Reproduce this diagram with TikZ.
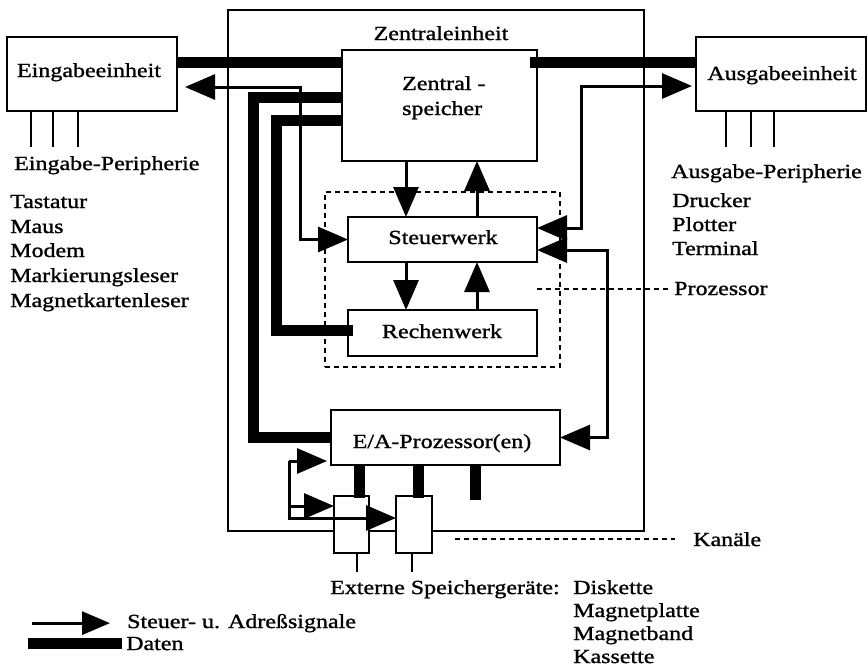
\documentclass[tikz,border=0pt]{standalone}
\usepackage{fontspec}
\setmainfont{Liberation Serif}[FakeStretch=1.2,FakeBold=1.2]
\usetikzlibrary{arrows.meta,calc}
\begin{document}
\begin{tikzpicture}[x=1pt,y=-1pt,
  font=\fontsize{20}{24}\selectfont,
  Big/.tip={Triangle[length=30pt,width=25pt]},
  Small/.tip={Triangle[length=28pt,width=23pt]},
  unit/.style={draw,line width=2.4pt,inner sep=0pt,outer sep=0pt,anchor=north west},
  port/.style={unit,fill=white},
  lbl/.style={inner sep=0pt,anchor=base},
  lblw/.style={inner sep=0pt,anchor=base west},
  data/.style={line width=11pt},
  signal/.style={line width=3pt,Big-Big},
  feed/.style={line width=3pt,-Big},
  wire/.style={line width=2.4pt},
  guide/.style={line width=2pt,dash pattern=on 5pt off 4pt},
]
\useasboundingbox (0,0) rectangle (867,670);

% central unit frame
\node[unit,minimum width=416pt,minimum height=521pt] (ze) at (228,10) {};
\node[lbl] (zel) at (441,40) {Zentraleinheit};

% input and output units
\node[unit,minimum width=170pt,minimum height=74pt] (ein) at (7,37) {};
\node[lbl] (eint) at (89,77) {Eingabeeinheit};
\node[unit,minimum width=170pt,minimum height=74pt] (aus) at (696,37) {};
\node[lbl] (aust) at (782,80) {Ausgabeeinheit};

% peripheral wires
\foreach \d in {24,46,71}
  \draw[wire] ($(ein.south west)+(\d,0)$) -- ++(0,36);
\foreach \d in {30,55,78}
  \draw[wire] ($(aus.south west)+(\d,0)$) -- ++(0,36);

\node[lblw] (einp) at (14,170) {Eingabe-Peripherie};
\node[lblw] (in1) at (10,208) {Tastatur};
\node[lblw] (in2) at (10,233) {Maus};
\node[lblw] (in3) at (10,257) {Modem};
\node[lblw] (in4) at (10,282) {Markierungsleser};
\node[lblw] (in5) at (10,307) {Magnetkartenleser};

\node[lblw] (ausp) at (671,178) {Ausgabe-Peripherie};
\node[lblw] (out1) at (672,207) {Drucker};
\node[lblw] (out2) at (672,231) {Plotter};
\node[lblw] (out3) at (672,255) {Terminal};

% main memory, control unit, arithmetic unit
\node[unit,minimum width=195pt,minimum height=111pt] (zs) at (342,50) {};
\node[lblw] (zst1) at (402,90) {Zentral -};
\node[lblw] (zst2) at (402,115) {speicher};

\node[guide,draw,inner sep=0pt,outer sep=0pt,anchor=north west,
      minimum width=235pt,minimum height=175pt] (proz) at (325,192) {};

\node[unit,minimum width=189pt,minimum height=45pt] (sw) at (348,217) {};
\node[lbl] (swt) at (443,244) {Steuerwerk};
\node[unit,minimum width=189pt,minimum height=46pt] (rw) at (348,310) {};
\node[lbl] (rwt) at (442,338) {Rechenwerk};

% I/O processor and channels
\node[unit,minimum width=229pt,minimum height=55pt] (ea) at (331,410) {};
\node[lbl] (eat) at (442,448) {E/A-Prozessor(en)};

\node[port,minimum width=35pt,minimum height=57pt] (k1) at (334,496) {};
\node[port,minimum width=36pt,minimum height=57pt] (k2) at (396,496) {};
\draw[wire] ($(k1.south)+(5.5,0)$) -- ++(0,19);
\draw[wire] ($(k2.south)+(-2,0)$) -- ++(0,19);

% helper positions
\coordinate (cl) at (406,0);
\coordinate (cr) at (477,0);
\coordinate (s1) at (359,0);
\coordinate (s2) at (418,0);
\coordinate (s3) at (475,0);
\coordinate (tA) at (289,461);
\coordinate (tB) at (289,506);
\coordinate (tC) at (289,518);
\coordinate (gp) at (537,0);
\coordinate (gk) at (455,0);

% data paths
\draw[data] ($(ein.east)+(0,-12)$) -- ($(zs.north west)+(0,12)$);
\draw[data] ($(zs.north east)+(-7,12)$) -- ($(aus.north west)+(0,25)$);
\draw[data] ($(zs.north west)+(0,47)$) -| ($(ea.west)+(-78,0)$) -- (ea.west);
\draw[data] ($(zs.north west)+(0,70)$) -| ($(rw.west)+(-72,-3)$) -- ($(rw.west)+(5,-3)$);
\draw[data] (ea.south -| s1) -- ($(k1.north -| s1)+(0,2)$);
\draw[data] (ea.south -| s2) -- ($(k2.north -| s2)+(0,2)$);
\draw[data] (ea.south -| s3) -- ++(0,35);

% control and address signals
\draw[signal] ($(ein.east)+(8,13)$) -| ($(sw.west)+(-48,0)$) -- (sw.west);
\draw[feed] (zs.south -| cl) -- (sw.north -| cl);
\draw[feed] (sw.north -| cr) -- (zs.south -| cr);
\draw[feed] (sw.south -| cl) -- (rw.north -| cl);
\draw[feed] (rw.north -| cr) -- (sw.south -| cr);
\draw[signal] ($(sw.east)+(0,-11.5)$) -| ($(aus.west)+(-115,12)$) -- ($(aus.west)+(-4,12)$);
\draw[signal] ($(sw.east)+(0,10.5)$) -| ($(ea.east)+(47,0)$) -- (ea.east);

\draw[line width=3pt] ($(tC)+(0,1.5)$) -- (tA);
\draw[feed] (tA) -- ($(ea.west |- tA)+(-4,0)$);
\draw[feed] (tB) -- (k1.west |- tB);
\draw[feed] ($(tC)+(-1.5,0)$) -- (k2.west |- tC);

% annotations
\node[lblw] (prozl) at (674,295) {Prozessor};
\draw[guide] (prozl.west -| gp) -- ([xshift=-6pt]prozl.west);
\node[lblw] (kan) at (693,546) {Kanäle};
\draw[guide] (kan.west -| gk) -- ([xshift=-18pt]kan.west);

\node[lblw] (ext) at (330,594) {Externe Speichergeräte:};
\node[lblw] (st1) at (573,594) {Diskette};
\node[lblw] (st2) at (573,617) {Magnetplatte};
\node[lblw] (st3) at (573,640) {Magnetband};
\node[lblw] (st4) at (573,663) {Kassette};

% legend
\node[lblw] (legs) at (127,628) {Steuer- u. Adreßsignale};
\draw[line width=3pt,-Small] ($(legs.west)+(-95,0)$) -- ($(legs.west)+(-17,0)$);
\node[lblw] (legd) at (126,650) {Daten};
\draw[data] ($(legd.west)+(-98,0)$) -- ($(legd.west)+(-4,0)$);
\end{tikzpicture}
\end{document}
